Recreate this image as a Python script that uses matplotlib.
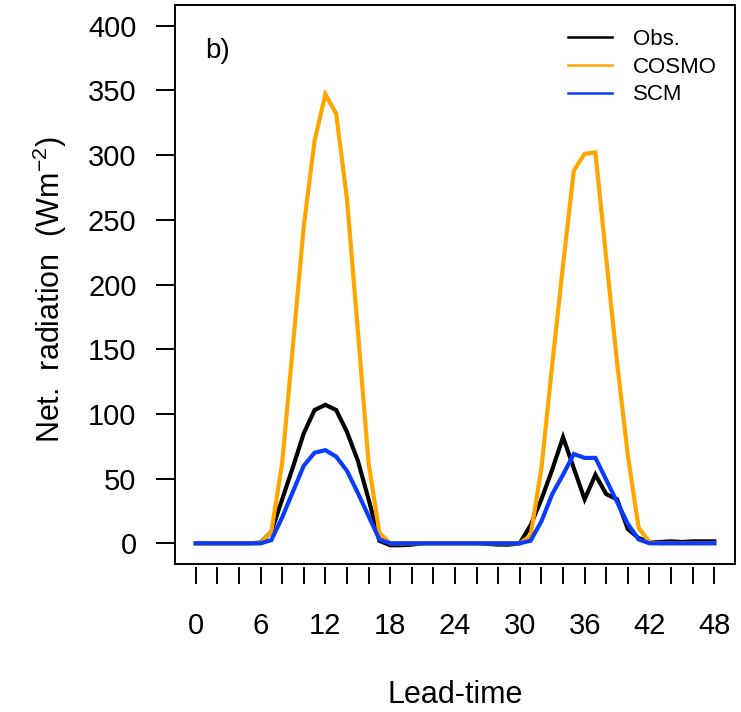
import matplotlib
matplotlib.use("Agg")
import matplotlib.pyplot as plt
from matplotlib.lines import Line2D

plt.rcParams["font.family"] = ["Liberation Sans", "DejaVu Sans"]
plt.rcParams["mathtext.fontset"] = "custom"
plt.rcParams["mathtext.rm"] = "Liberation Sans"
plt.rcParams["mathtext.it"] = "Liberation Sans:italic"

# lead time in hours
hours = list(range(49))

obs = [0, 0, 0, 0, 0, 0, 0.5, 9, 34, 59, 85, 103, 107, 103, 86, 64, 34, 2,
       -1.5, -1.5, -1, 0, 0, 0, 0, 0, 0, -0.5, -1, -1, 0, 14, 34, 57, 82, 58,
       34, 53, 38, 34, 11, 4, 1, 1, 1.5, 1, 1.5, 1.5, 1.5]
cosmo = [0, 0, 0, 0, 0, 0, 0, 9, 62, 153, 245, 311, 347, 332, 266, 165, 62, 8,
         0, 0, 0, 0, 0, 0, 0, 0, 0, 0, 0, 0, 0, 6, 58, 138, 215, 288,
         301, 302, 220, 140, 68, 12, 1, 0, 0, 0, 0, 0, 0]
scm = [0, 0, 0, 0, 0, 0, 0, 2.5, 20, 40, 60, 70, 72, 67, 56, 39, 21, 3,
       0, 0, 0, 0, 0, 0, 0, 0, 0, 0, 0, 0, 0, 2, 17, 38, 53, 69,
       66, 66, 49, 32, 15, 3, 0, 0, 0, 0, 0, 0, 0]

series_names = ["Obs.", "COSMO", "SCM"]
series_colors = ["black", "#ffa500", "#0a3cff"]

x_ticks = list(range(0, 49, 2))
x_labels = [str(t) if t % 6 == 0 else "" for t in x_ticks]
y_ticks = [0, 50, 100, 150, 200, 250, 300, 350, 400]

W, H = 741, 712
fig = plt.figure(figsize=(W / 100, H / 100), dpi=100)
left, right, top, bottom = 175, 735, 5, 564
ax = fig.add_axes([left / W, 1 - bottom / H, (right - left) / W, (bottom - top) / H])

for vals, name, col in zip([obs, cosmo, scm], series_names, series_colors):
    ax.plot(hours, vals, color=col, lw=3, label=name, solid_joinstyle="miter")

ax.set_xlim(-1.92, 49.92)
ax.set_ylim(-16, 416)

ax.set_xticks(x_ticks)
ax.set_xticklabels(x_labels)
ax.set_yticks(y_ticks)

for s in ax.spines.values():
    s.set_linewidth(1.4)
# x ticks sit slightly below the box, with no axis line of their own
ax.spines["bottom"].set_position(("outward", 2.2))
ax.spines["bottom"].set_linewidth(0)
ax.add_line(Line2D([0, 1], [0, 0], transform=ax.transAxes, color="black",
                   lw=1.4, clip_on=False))

ax.tick_params(axis="x", direction="out", length=12, width=1.4, pad=20,
               labelsize=21)
ax.tick_params(axis="y", direction="out", length=13.7, width=1.4, pad=14,
               labelsize=21)

ax.set_xlabel("Lead-time", fontsize=22)
ax.xaxis.label.set_va("center")
ax.xaxis.set_label_coords((455 - left) / (right - left), (bottom - 695) / (bottom - top))
ax.set_ylabel("Net.  radiation  (Wm$^{-2}$)", fontsize=22)
ax.yaxis.label.set_va("center")
ax.yaxis.set_label_coords((50 - left) / (right - left), (bottom - 289) / (bottom - top))

fig.text(205 / W, 1 - 58 / H, "b)", fontsize=20, va="baseline", ha="left")

leg = ax.legend(loc="upper left", bbox_to_anchor=(568 / W, 1 - 29 / H),
                bbox_transform=fig.transFigure, frameon=False, fontsize=16,
                borderpad=0, borderaxespad=0, handlelength=1.98,
                handletextpad=0.93, labelspacing=0.3)
for ln in leg.get_lines():
    ln.set_linewidth(1.8)

fig.savefig("out.png", dpi=100)
